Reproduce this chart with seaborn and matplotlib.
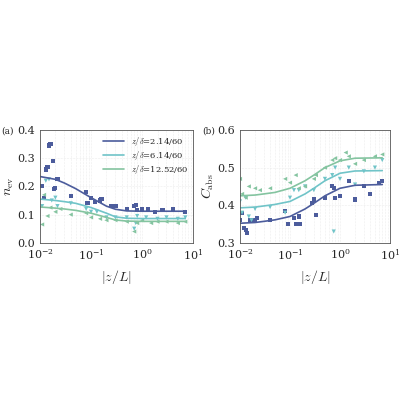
import numpy as np
import matplotlib
matplotlib.use("Agg")
import matplotlib.pyplot as plt
import seaborn as sns

sns.set_style("white")
plt.rcParams['font.family'] = ['DejaVu Serif']
plt.rcParams['mathtext.fontset'] = 'cm'

c_blue, c_teal, c_green = "#4c5c9c", "#70c4c8", "#84c4a0"
labels = [r"$z/\delta$=2.14/60", r"$z/\delta$=6.14/60", r"$z/\delta$=12.52/60"]

fit_x = [0.01, 0.02, 0.03, 0.05, 0.1, 0.2, 0.3, 0.5, 1, 2, 7]
a_fit1 = [0.235, 0.225, 0.212, 0.192, 0.16, 0.13, 0.119, 0.113, 0.112, 0.112, 0.112]
a_fit2 = [0.155, 0.150, 0.146, 0.140, 0.125, 0.105, 0.092, 0.087, 0.086, 0.086, 0.086]
a_fit3 = [0.127, 0.123, 0.120, 0.115, 0.105, 0.090, 0.081, 0.077, 0.076, 0.076, 0.076]
b_fit1 = [0.352, 0.354, 0.357, 0.361, 0.370, 0.390, 0.405, 0.425, 0.445, 0.453, 0.455]
b_fit2 = [0.393, 0.395, 0.398, 0.402, 0.410, 0.430, 0.445, 0.465, 0.485, 0.491, 0.492]
b_fit3 = [0.425, 0.427, 0.430, 0.434, 0.445, 0.465, 0.480, 0.500, 0.518, 0.525, 0.526]

a_x1 = [0.011, 0.012, 0.013, 0.014, 0.015, 0.016, 0.018, 0.019, 0.02, 0.022, 0.04, 0.08, 0.085, 0.1, 0.12, 0.15, 0.16, 0.25, 0.3, 0.5, 0.7, 0.75, 0.8, 1.0, 1.3, 1.8, 2.5, 4, 7]
a_y1 = [0.20, 0.16, 0.26, 0.27, 0.345, 0.35, 0.29, 0.19, 0.195, 0.225, 0.165, 0.18, 0.14, 0.16, 0.145, 0.15, 0.155, 0.13, 0.13, 0.12, 0.13, 0.135, 0.115, 0.12, 0.12, 0.11, 0.115, 0.12, 0.11]
a_x2 = [0.011, 0.013, 0.015, 0.017, 0.02, 0.022, 0.04, 0.08, 0.1, 0.13, 0.2, 0.3, 0.5, 0.7, 0.75, 0.8, 1.2, 2, 3, 5, 7]
a_y2 = [0.13, 0.22, 0.225, 0.15, 0.16, 0.13, 0.14, 0.12, 0.11, 0.11, 0.09, 0.09, 0.09, 0.05, 0.07, 0.095, 0.09, 0.085, 0.09, 0.085, 0.09]
a_x3 = [0.011, 0.012, 0.014, 0.016, 0.02, 0.025, 0.04, 0.08, 0.1, 0.15, 0.2, 0.3, 0.5, 0.7, 0.8, 1.0, 1.5, 2, 3, 5, 7]
a_y3 = [0.065, 0.17, 0.095, 0.125, 0.11, 0.12, 0.1, 0.105, 0.09, 0.085, 0.08, 0.08, 0.075, 0.04, 0.07, 0.08, 0.07, 0.075, 0.075, 0.07, 0.075]

b_x1 = [0.01, 0.011, 0.012, 0.013, 0.014, 0.016, 0.018, 0.02, 0.022, 0.04, 0.08, 0.09, 0.12, 0.13, 0.15, 0.16, 0.28, 0.3, 0.33, 0.5, 0.7, 0.75, 0.8, 1.0, 1.5, 2, 3, 4, 6, 7]
b_y1 = [0.36, 0.38, 0.34, 0.335, 0.325, 0.36, 0.36, 0.36, 0.365, 0.36, 0.385, 0.35, 0.365, 0.35, 0.37, 0.35, 0.405, 0.415, 0.375, 0.42, 0.45, 0.445, 0.42, 0.425, 0.465, 0.415, 0.45, 0.43, 0.46, 0.465]
b_x2 = [0.01, 0.011, 0.013, 0.015, 0.017, 0.02, 0.04, 0.08, 0.1, 0.12, 0.15, 0.2, 0.3, 0.5, 0.7, 0.75, 0.8, 1.0, 1.5, 2, 3, 5, 7]
b_y2 = [0.41, 0.38, 0.42, 0.37, 0.36, 0.39, 0.395, 0.38, 0.42, 0.44, 0.44, 0.45, 0.44, 0.47, 0.48, 0.33, 0.5, 0.47, 0.5, 0.455, 0.49, 0.5, 0.52]
b_x3 = [0.01, 0.011, 0.013, 0.015, 0.02, 0.025, 0.04, 0.08, 0.1, 0.13, 0.15, 0.2, 0.3, 0.33, 0.5, 0.7, 0.8, 1.0, 1.3, 1.5, 2, 3, 5, 7]
b_y3 = [0.47, 0.43, 0.42, 0.45, 0.445, 0.44, 0.445, 0.47, 0.46, 0.48, 0.445, 0.45, 0.47, 0.48, 0.5, 0.52, 0.525, 0.52, 0.54, 0.53, 0.51, 0.52, 0.53, 0.535]

fig = plt.figure(figsize=(4, 4), dpi=100)
ax1 = fig.add_axes([0.10, 0.393, 0.383, 0.282])
ax2 = fig.add_axes([0.60, 0.393, 0.375, 0.282])

def panel(ax, fits, pts, ylim, yt, ylabel, tag, legend):
    cols = [c_blue, c_teal, c_green]
    marks = ["s", "v", "<"]
    for (fy, (px, py), c, m, lab) in zip(fits, pts, cols, marks, labels):
        sns.lineplot(x=fit_x, y=fy, ax=ax, color=c, lw=1.2, label=lab if legend else None)
        sns.scatterplot(x=px, y=py, ax=ax, color=c, marker=m, s=9, edgecolor="none", legend=False)
    ax.set_xscale("log")
    ax.set_xlim(0.01, 10)
    ax.set_ylim(*ylim)
    ax.set_yticks(yt)
    ax.grid(True, which="both", color="#dddddd", lw=0.4, ls=":")
    for s in ax.spines.values():
        s.set_color("#555555"); s.set_linewidth(0.6)
    ax.tick_params(labelsize=8, length=2, direction="in")
    ax.set_xlabel(r"$|z/L|$", fontsize=10)
    ax.set_ylabel(ylabel, fontsize=10, labelpad=1)
    ax.text(-0.25, 0.97, tag, transform=ax.transAxes, fontsize=6.5)
    if legend:
        ax.legend(fontsize=6, frameon=False, loc="upper right", handlelength=2.5,
                  borderaxespad=0.2, labelspacing=0.1)
    else:
        lg = ax.get_legend()
        if lg: lg.remove()

panel(ax1, [a_fit1, a_fit2, a_fit3], [(a_x1, a_y1), (a_x2, a_y2), (a_x3, a_y3)],
      (0, 0.4), [0, 0.1, 0.2, 0.3, 0.4], r"$n_{\rm ev}$", "(a)", True)
panel(ax2, [b_fit1, b_fit2, b_fit3], [(b_x1, b_y1), (b_x2, b_y2), (b_x3, b_y3)],
      (0.3, 0.6), [0.3, 0.4, 0.5, 0.6], r"$C_{\rm abs}$", "(b)", False)

fig.savefig("out.png", dpi=100)
